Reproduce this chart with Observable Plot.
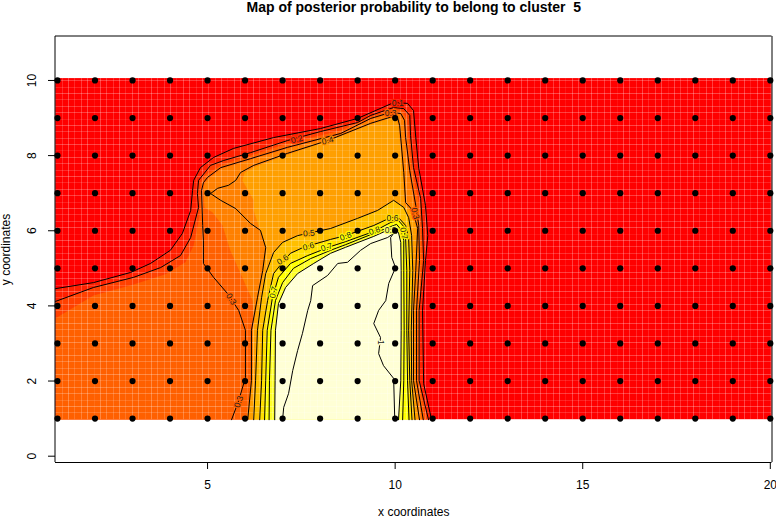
<!DOCTYPE html>
<html><head><meta charset="utf-8">
<style>html,body{margin:0;padding:0;background:#fff}svg{display:block}</style>
<script src="https://cdn.jsdelivr.net/npm/d3@7"></script>
<script src="https://cdn.jsdelivr.net/npm/@observablehq/plot@0.6"></script>
</head><body><div id="chart"></div>
<script>
const titleText = "Map of posterior probability to belong to cluster  5";
const xLabel = "x coordinates", yLabel = "y coordinates";
const xTicks = [5,10,15,20], yTicks = [0,2,4,6,8,10];
const gridX = [1,2,3,4,5,6,7,8,9,10,11,12,13,14,15,16,17,18,19,20];
const gridY = [1,2,3,4,5,6,7,8,9,10];
const xDomain = [0.947,20.045], yDomain = [-0.168,11.17];
const imgBottom = 0.97, imgTop = 10.05;

const c01=[[.95,4.46],[1.96,4.62],[2.95,4.89],[3.48,5.13],[4.01,5.48],[4.33,5.93],[4.55,6.54],[4.60,7.07],[4.63,7.34],[4.81,7.68],[5.16,7.95],[5.69,8.19],[6.76,8.48],[8.01,8.72],[9.0,8.99],[9.96,9.41],[10.33,9.39],[10.49,9.20],[10.55,8.48],[10.63,7.66],[10.81,6.67],[10.87,5.87],[10.81,5.21],[10.73,3.88],[10.76,1.93],[10.97,.97]];
const c02=[[.95,4.12],[1.96,4.49],[3.03,4.76],[3.75,5.02],[4.28,5.34],[4.55,5.82],[4.76,6.62],[4.73,6.99],[4.76,7.34],[5.08,7.74],[5.43,7.87],[6.15,8.08],[7.13,8.40],[8.01,8.64],[9.0,8.88],[9.35,9.07],[9.96,9.28],[10.23,9.25],[10.39,9.07],[10.41,8.54],[10.49,7.68],[10.68,6.86],[10.73,6.06],[10.76,5.21],[10.64,3.88],[10.64,2.01],[10.89,.97]];
const c03=[[5.64,.97],[5.83,1.48],[6.01,2.09],[6.01,3.35],[5.83,3.88],[5.53,4.33],[5.16,4.76],[4.89,5.13],[4.89,5.74],[4.87,6.14],[4.84,7.07],[4.89,7.28],[5.0,7.42],[5.35,7.68],[6.15,7.92],[7.13,8.22],[8.55,8.59],[9.35,8.99],[9.88,9.15],[10.15,9.12],[10.25,8.94],[10.28,8.48],[10.39,7.60],[10.55,6.67],[10.63,6.14],[10.65,5.21],[10.57,3.88],[10.57,2.01],[10.75,.97]];
const c04=[[6.07,.97],[6.17,2.01],[6.17,3.35],[6.33,4.22],[6.47,4.94],[6.55,5.55],[6.41,6.01],[6.15,6.19],[5.75,6.59],[5.35,6.81],[5.08,6.99],[5.27,7.13],[5.56,7.21],[5.75,7.34],[5.88,7.55],[6.23,7.74],[7.13,8.06],[8.2,8.40],[9.35,8.86],[9.93,9.04],[10.07,8.99],[10.12,8.80],[10.15,8.46],[10.23,7.55],[10.28,6.75],[10.47,6.54],[10.60,6.06],[10.55,4.94],[10.49,3.88],[10.49,2.01],[10.65,.97]];
const c05=[[6.23,.97],[6.28,2.01],[6.33,3.35],[6.44,4.22],[6.55,4.86],[6.76,5.42],[7.0,5.69],[7.40,5.87],[7.67,5.93],[8.28,6.06],[9.0,6.33],[9.53,6.54],[9.96,6.81],[10.23,6.62],[10.36,6.35],[10.44,5.87],[10.47,4.94],[10.43,3.35],[10.44,2.01],[10.53,.97]];
const c06=[[6.39,.97],[6.44,2.01],[6.47,3.35],[6.60,4.14],[6.76,4.86],[7.0,5.16],[7.21,5.40],[7.56,5.56],[8.28,5.77],[8.68,5.87],[9.43,6.14],[9.88,6.35],[10.09,6.35],[10.28,6.14],[10.36,5.79],[10.39,4.94],[10.36,3.35],[10.39,2.01],[10.45,.97]];
const c07=[[6.52,.97],[6.55,2.01],[6.59,3.35],[6.73,4.22],[6.89,4.76],[7.21,5.13],[7.67,5.34],[8.28,5.58],[8.68,5.71],[9.43,5.98],[9.88,6.22],[10.09,6.27],[10.23,6.11],[10.28,5.79],[10.31,4.94],[10.31,3.35],[10.33,2.01],[10.37,.97]];
const c08=[[6.64,.97],[6.65,2.01],[6.69,3.35],[6.81,4.14],[7.0,4.62],[7.29,5.0],[7.75,5.26],[8.28,5.48],[8.68,5.63],[9.43,5.93],[9.88,6.11],[10.04,6.17],[10.17,6.01],[10.23,5.74],[10.23,4.94],[10.24,3.35],[10.23,2.01],[10.2,.97]];
const c09=[[6.79,.97],[6.8,2.01],[6.81,3.35],[6.89,4.06],[7.08,4.49],[7.40,4.86],[7.83,5.13],[8.28,5.40],[8.68,5.56],[9.43,5.85],[9.83,6.03],[9.99,6.06],[10.09,5.95],[10.15,5.69],[10.16,4.94],[10.16,3.35],[10.15,2.01],[10.09,.97]];
const c10=[[7.0,.97],[7.03,1.30],[7.16,1.67],[7.27,2.28],[7.40,2.81],[7.53,3.27],[7.67,3.88],[7.75,4.14],[7.80,4.54],[8.2,4.81],[8.47,5.13],[8.73,5.16],[9.08,5.48],[9.35,5.66],[9.80,5.82],[9.96,5.93],[9.88,5.82],[9.91,5.29],[10.01,5.02],[9.83,4.60],[9.75,4.14],[9.56,3.88],[9.43,3.53],[9.61,3.16],[9.56,2.73],[9.69,2.41],[9.96,2.07],[9.99,.97]];
const contours=[c01,c02,c03,c04,c05,c06,c07,c08,c09,c10];

const zoneC=[[.95,3.67],[1.96,4.28],[3.03,4.57],[3.88,4.84],[4.41,5.16],[4.63,5.61],[4.79,6.41],[4.81,6.94],[4.81,7.26],[4.95,7.49],[5.4,7.76],[6.15,8.0],[7.13,8.32],[8.55,8.67],[9.35,9.03],[9.88,9.2],[10.17,9.2],[10.31,8.99],[10.36,8.48],[10.44,7.66],[10.63,6.75],[10.68,6.11],[10.71,5.21],[10.63,3.88],[10.63,2.01],[10.81,.97],[.95,.97]];
const zoneD=[[6.04,.97],[6.28,3.08],[6.2,4.14],[5.96,4.68],[5.61,5.47],[5.40,6.14],[5.13,6.49],[4.92,6.62],[4.89,7.07],[4.92,7.26],[5.03,7.39],[5.37,7.66],[6.15,7.89],[7.13,8.19],[8.55,8.56],[9.35,8.96],[9.88,9.12],[10.12,9.1],[10.23,8.94],[10.25,8.48],[10.36,7.6],[10.52,6.67],[10.6,6.14],[10.63,5.21],[10.55,3.88],[10.55,2.01],[10.71,.97]];
const zoneE=[[6.09,.97],[6.2,2.01],[6.2,3.35],[6.36,4.22],[6.49,4.94],[6.57,5.55],[6.36,6.14],[6.23,6.54],[6.23,6.81],[5.93,7.34],[5.99,7.55],[6.28,7.71],[7.13,8.02],[8.2,8.38],[9.35,8.83],[9.93,9.01],[10.04,8.96],[10.09,8.77],[10.12,8.46],[10.2,7.55],[10.25,6.7],[10.44,6.49],[10.57,6.06],[10.52,4.94],[10.47,3.88],[10.47,2.01],[10.62,.97]];

const baseColor="#FF0000";
const zoneList=[
 [[...c01,[.95,.97]],"#FF2000"],
 [[...c02,[.95,.97]],"#FF4000"],
 [zoneC,"#FF6000"],[zoneD,"#FF8000"],[zoneE,"#FF9F00"],
 [c05,"#FFBF00"],[c06,"#FFDF00"],[c07,"#FFFF00"],[c08,"#FFFF2A"],[c09,"#FFFFD5"]];

const labelText=["0.1","0.2","0.3","0.4","0.3","0.3","0.3","0.5","0.6","0.6","0.7","0.8","0.8","0.6","0.9","0.7","0.7","1"];
const labelX=[10.07,7.38,9.88,8.2,10.53,5.63,5.83,7.70,7.0,7.69,8.17,8.68,9.45,9.93,9.88,10.23,6.76,9.61];
const labelY=[9.39,8.43,9.12,8.40,6.46,4.18,1.45,5.93,5.23,5.58,5.56,5.85,6.0,6.33,6.0,5.93,4.36,3.03];
const labelRot=[0,-15,0,-15,76,58,-70,-5,-35,-15,-17,-20,-20,0,0,80,-75,90];
const labelHalo=["#FF2000","#FF3000","#FF6000","#FF8F00","#FF6000","#FF6000","#FF6000","#FFAF00","#FFCF00","#FFDF00","#FFFF00","#FFFF00","#FFFF00","#FFDF00","#FFFF60","#FFEF00","#FFFF00","#FFFFD5"];

const W=776,H=518,mL=55,mR=4.5,mT=36,mB=56;
const cellStep=0.17;
function seams(d0,d1,r0,r1,lo,hi){
  const s=(r1-r0)/(d1-d0),out=[];
  for(let v=lo;v<hi;v+=cellStep){
    const p=r0+(v-d0)*s,f=p-Math.floor(p);
    out.push({v:d0+(Math.floor(p)-r0)/s,a:0.07+0.8*f*(1-f)});
  }
  return out;
}
const seamX=seams(xDomain[0],xDomain[1],mL,W-mR,xDomain[0]+.02,xDomain[1]);
const seamY=seams(yDomain[1],yDomain[0],mT,H-mB,imgBottom,imgTop);

const points=gridX.flatMap(x=>gridY.map(y=>({x,y})));
const labels=labelText.map((t,i)=>({t,x:labelX[i],y:labelY[i],r:labelRot[i],h:labelHalo[i]}));
const px=d=>d[0],py=d=>d[1];

const chart=Plot.plot({
  width:W,height:H,marginLeft:mL,marginRight:mR,marginTop:mT,marginBottom:mB,
  x:{domain:xDomain,label:null},y:{domain:yDomain,label:null},
  opacity:{domain:[0,1],range:[0,1]},
  style:{fontFamily:"'Liberation Sans',Arial,sans-serif",fontSize:"12px",background:"#fff",color:"#000"},
  marks:[
    Plot.rect([0],{x1:xDomain[0],x2:xDomain[1],y1:imgBottom,y2:imgTop,fill:baseColor}),
    ...zoneList.map(([poly,color])=>Plot.line(poly,{x:px,y:py,fill:color,stroke:"none",clip:true})),
    Plot.ruleX(seamX,{x:"v",y1:imgBottom,y2:imgTop,stroke:"#fff",strokeOpacity:"a",strokeWidth:1,clip:true}),
    Plot.ruleY(seamY,{y:"v",x1:xDomain[0],x2:xDomain[1],stroke:"#fff",strokeOpacity:"a",strokeWidth:1,clip:true}),
    ...contours.map(c=>Plot.line(c,{x:px,y:py,stroke:"#000",strokeWidth:1,clip:true})),
    Plot.text(labels,{x:"x",y:"y",text:"t",rotate:"r",fontSize:8.5,fill:"#222",stroke:{value:"h",scale:null},strokeWidth:2.5,textAnchor:"middle"}),
    Plot.dot(points,{x:"x",y:"y",r:3.1,fill:"#000",stroke:"none"}),
    Plot.ruleX([xDomain[0]],{stroke:"#000",dx:-.5}),
    Plot.ruleY([yDomain[1]],{stroke:"#000",dy:-.5}),
    Plot.ruleX([xDomain[1]],{stroke:"#000"}),
    Plot.ruleY([yDomain[0]],{stroke:"#000"}),
    Plot.axisX({ticks:xTicks,tickSize:7,tickPadding:11,fontSize:12,label:xLabel,labelAnchor:"center",labelArrow:"none",labelOffset:53,tickFormat:d=>d}),
    Plot.axisY({ticks:yTicks,tickSize:7,tickPadding:13,tickRotate:-90,fontSize:12,label:yLabel,labelAnchor:"center",labelArrow:"none",labelOffset:54,tickFormat:d=>d}),
    Plot.text([titleText],{frameAnchor:"top",dy:-28.5,lineAnchor:"middle",fontSize:14,fontWeight:"bold",fill:"#000"})
  ]
});
document.getElementById("chart").append(chart);
</script></body></html>
